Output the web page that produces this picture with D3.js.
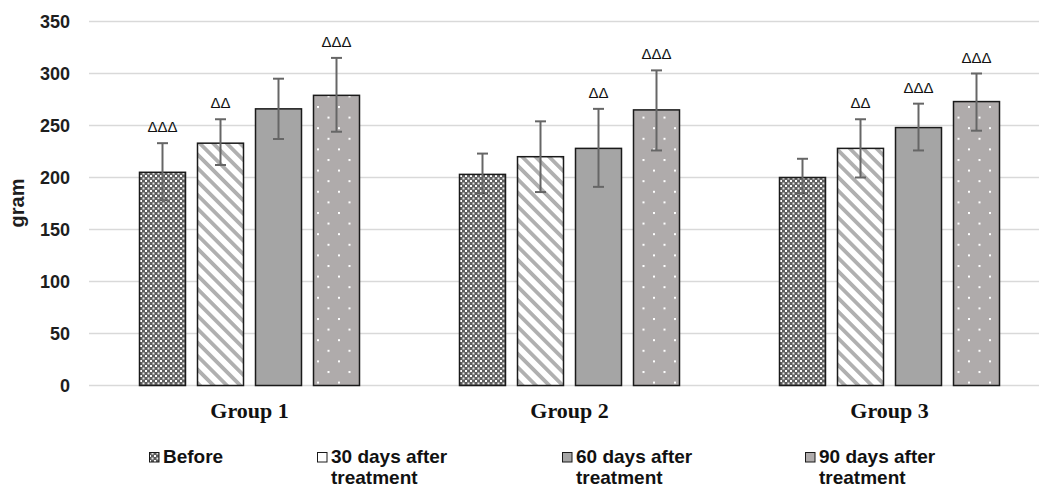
<!DOCTYPE html>
<html>
<head>
<meta charset="utf-8">
<script src="https://cdnjs.cloudflare.com/ajax/libs/d3/7.8.5/d3.min.js"></script>
<style>
	body { margin: 0; background: #fff; }
	svg { display: block; }
	.tick-lbl { font-family: Arial, "Liberation Sans", sans-serif; font-weight: bold; font-size: 18px; fill: #1e1e1e; }
	.grp-lbl { font-family: "Times New Roman", "Liberation Serif", serif; font-weight: bold; font-size: 22px; fill: #111; }
	.legend { font-family: Arial, "Liberation Sans", sans-serif; font-weight: bold; font-size: 19px; fill: #111; }
	.mark { font-family: Arial, "Liberation Sans", sans-serif; font-size: 15px; fill: #111; }
</style>
</head>
<body>
<script>
// ---- data ----
var groups = ["Group 1", "Group 2", "Group 3"];
var series = ["Before", "30 days after treatment", "60 days after treatment", "90 days after treatment"];
// mean values, one row per group
var means = [
	[205, 233, 266, 279],
	[203, 220, 228, 265],
	[200, 228, 248, 273]
];
// error bar ends (low, high)
var errLow = [
	[178, 212, 237, 244],
	[185, 186, 191, 226],
	[185, 200, 226, 245]
];
var errHigh = [
	[233, 256, 295, 315],
	[223, 254, 266, 303],
	[218, 256, 271, 300]
];
// significance marks above the error bars
var marks = [
	["ΔΔΔ", "ΔΔ", "", "ΔΔΔ"],
	["", "", "ΔΔ", "ΔΔΔ"],
	["", "ΔΔ", "ΔΔΔ", "ΔΔΔ"]
];
var yTicks = [0, 50, 100, 150, 200, 250, 300, 350];

// ---- layout ----
var W = 1039, H = 488;
var svg = d3.select("body").append("svg").attr("width", W).attr("height", H);

var y = d3.scaleLinear().domain([0, 350]).range([385.5, 21.5]);
var x0 = d3.scaleBand().domain(groups).range([89.5, 1049.5]);
var x1 = d3.scaleBand().domain(series).range([0, 220]).paddingInner(12 / 58).paddingOuter(0);

// fill patterns
var defs = svg.append("defs");
var pBefore = defs.append("pattern").attr("id", "pBefore").attr("patternUnits", "userSpaceOnUse")
	.attr("width", 5).attr("height", 5);
pBefore.append("rect").attr("width", 5).attr("height", 5).attr("fill", "#5e5e5e");
pBefore.append("rect").attr("x", 0).attr("y", 0).attr("width", 2).attr("height", 2).attr("fill", "#fff");
pBefore.append("rect").attr("x", 2.5).attr("y", 2.5).attr("width", 2).attr("height", 2).attr("fill", "#e8e8e8");

var pStripe = defs.append("pattern").attr("id", "pStripe").attr("patternUnits", "userSpaceOnUse")
	.attr("width", 9.5).attr("height", 9.5).attr("patternTransform", "rotate(-45)");
pStripe.append("rect").attr("width", 9.5).attr("height", 9.5).attr("fill", "#fff");
pStripe.append("rect").attr("width", 3.8).attr("height", 9.5).attr("fill", "#b0b0b0");

var pDots = defs.append("pattern").attr("id", "pDots").attr("patternUnits", "userSpaceOnUse")
	.attr("width", 21).attr("height", 21.2).attr("x", 2).attr("y", 0);
pDots.append("rect").attr("width", 21).attr("height", 21.2).attr("fill", "#afabab");
pDots.append("rect").attr("x", 0).attr("y", 0).attr("width", 2).attr("height", 2).attr("fill", "#fff");
pDots.append("rect").attr("x", 10.5).attr("y", 10.6).attr("width", 2).attr("height", 2).attr("fill", "#fff");

var fills = ["url(#pBefore)", "url(#pStripe)", "#a5a5a5", "url(#pDots)"];

// gridlines
svg.append("g").selectAll("line").data(yTicks).enter().append("line")
	.attr("x1", 89).attr("x2", W)
	.attr("y1", function (d) { return y(d); }).attr("y2", function (d) { return y(d); })
	.attr("stroke", "#d9d9d9").attr("stroke-width", 1.5);

// y tick labels
svg.append("g").selectAll("text").data(yTicks).enter().append("text")
	.attr("class", "tick-lbl")
	.attr("x", 70).attr("y", function (d) { return y(d) + 6.5; })
	.attr("text-anchor", "end")
	.text(function (d) { return d; });

// y axis title
svg.append("text").attr("class", "tick-lbl")
	.attr("transform", "translate(24,203) rotate(-90)")
	.attr("text-anchor", "middle").style("font-size", "20px")
	.text("gram");

// flatten rows for drawing
var cells = [];
groups.forEach(function (g, gi) {
	series.forEach(function (s, si) {
		cells.push({ g: g, s: s, si: si, v: means[gi][si], lo: errLow[gi][si], hi: errHigh[gi][si], m: marks[gi][si] });
	});
});
function cx(d) { return x0(d.g) + x0.bandwidth() / 2 - 110 + x1(d.s) + x1.bandwidth() / 2; }

var plot = svg.append("g");
plot.selectAll("rect.bar").data(cells).enter().append("rect")
	.attr("class", "bar")
	.attr("x", function (d) { return x0(d.g) + x0.bandwidth() / 2 - 110 + x1(d.s); })
	.attr("y", function (d) { return y(d.v); })
	.attr("width", x1.bandwidth())
	.attr("height", function (d) { return y(0) - y(d.v); })
	.attr("fill", function (d) { return fills[d.si]; })
	.attr("stroke", "#1a1a1a").attr("stroke-width", 1.5);

// error bars
var eb = plot.selectAll("g.err").data(cells).enter().append("g").attr("class", "err")
	.attr("stroke", "#666").attr("stroke-width", 2);
eb.append("line")
	.attr("x1", cx).attr("x2", cx)
	.attr("y1", function (d) { return y(d.lo); }).attr("y2", function (d) { return y(d.hi); });
eb.append("line")
	.attr("x1", function (d) { return cx(d) - 5.5; }).attr("x2", function (d) { return cx(d) + 5.5; })
	.attr("y1", function (d) { return y(d.hi); }).attr("y2", function (d) { return y(d.hi); });
eb.append("line")
	.attr("x1", function (d) { return cx(d) - 5.5; }).attr("x2", function (d) { return cx(d) + 5.5; })
	.attr("y1", function (d) { return y(d.lo); }).attr("y2", function (d) { return y(d.lo); });

// significance marks
plot.selectAll("text.mark").data(cells.filter(function (d) { return d.m; })).enter().append("text")
	.attr("class", "mark")
	.attr("x", cx).attr("y", function (d) { return y(d.hi) - 11; })
	.attr("text-anchor", "middle")
	.text(function (d) { return d.m; });

// group labels
svg.append("g").selectAll("text").data(groups).enter().append("text")
	.attr("class", "grp-lbl")
	.attr("x", function (d) { return x0(d) + x0.bandwidth() / 2; })
	.attr("y", 418)
	.attr("text-anchor", "middle")
	.text(function (d) { return d; });

// legend
var legendX = [149, 317, 562, 805];
var legendFills = ["url(#pBefore)", "#fff", "#a5a5a5", "#afabab"];
var lg = svg.append("g").selectAll("g").data(series).enter().append("g")
	.attr("transform", function (d, i) { return "translate(" + legendX[i] + ",0)"; });
lg.append("rect")
	.attr("x", 0.5).attr("y", 452.5).attr("width", 9.5).attr("height", 9.5)
	.attr("fill", function (d, i) { return legendFills[i]; })
	.attr("stroke", "#1a1a1a").attr("stroke-width", 1);
// two-line labels as separate texts
lg.each(function (d) {
	var parts = d === "Before" ? ["Before"] : [d.replace(" treatment", ""), "treatment"];
	var g = d3.select(this);
	parts.forEach(function (p, k) {
		g.append("text").attr("class", "legend").attr("x", 14).attr("y", 462.5 + k * 21.3).text(p);
	});
});
</script>
</body>
</html>
